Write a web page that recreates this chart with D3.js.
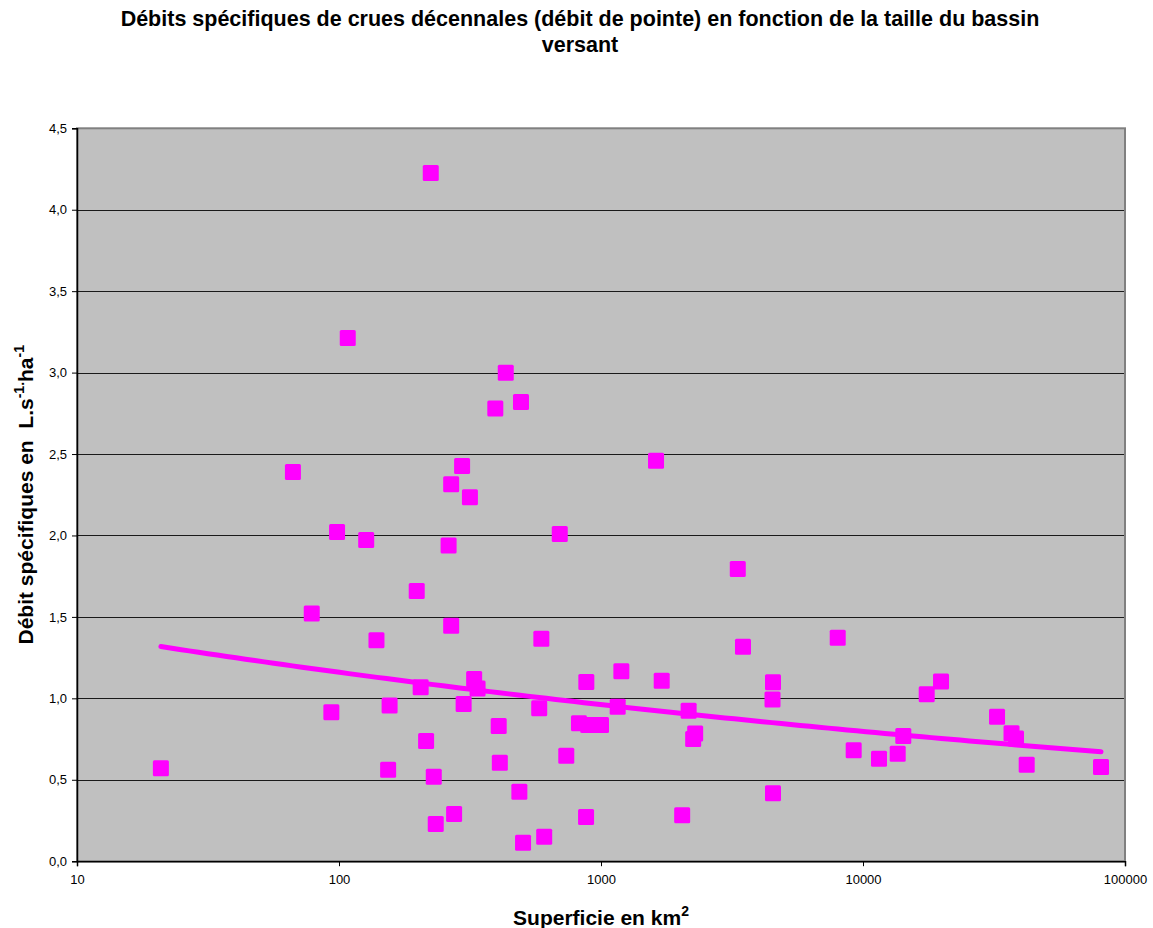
<!DOCTYPE html>
<html>
<head>
<meta charset="utf-8">
<script src="https://cdn.jsdelivr.net/npm/d3@7"></script>
<style>
  html, body { margin: 0; padding: 0; background: #fff; }
  svg { display: block; font-family: "Liberation Sans", Arial, sans-serif; }
  text { white-space: pre; }
</style>
</head>
<body>
<svg id="chart" width="1153" height="928"></svg>
<script>
// Superficie du bassin versant (km²)
const superficie = [20.9, 66.7, 78.7, 93.5, 98.3, 108, 127, 139, 156, 154,
  198, 205, 215, 224, 230, 234, 262, 268, 268, 275,
  295, 299, 316, 328, 338, 395, 407, 411, 433, 488,
  495, 504, 581, 592, 607, 696, 737, 824, 879, 877,
  894, 1000, 1158, 1196, 1622, 1705, 2041, 2160, 2248, 2288,
  3327, 3483, 4534, 4515, 4534, 8008, 9214, 11510, 13566, 14250,
  17504, 19852, 32478, 36885, 38370, 42150, 80990];
// Débit spécifique de crue décennale (L.s-1.ha-1)
const debit = [0.570, 2.389, 1.521, 0.914, 2.021, 3.212, 1.972, 1.356, 0.956, 0.562,
  1.659, 1.068, 0.738, 4.225, 0.519, 0.228, 1.939, 2.314, 1.446, 0.290,
  2.426, 0.965, 2.234, 1.118, 1.061, 2.780, 0.830, 0.605, 2.999, 0.427,
  2.819, 0.114, 0.939, 1.366, 0.150, 2.009, 0.648, 0.847, 1.100, 0.271,
  0.836, 0.836, 0.948, 1.166, 2.459, 1.108, 0.282, 0.924, 0.750, 0.784,
  1.794, 1.317, 1.098, 0.993, 0.417, 1.372, 0.681, 0.629, 0.660, 0.769,
  1.025, 1.104, 0.887, 0.785, 0.754, 0.592, 0.578];

const xTickValues = [10, 100, 1000, 10000, 100000];
const yTickValues = [0, 0.5, 1.0, 1.5, 2.0, 2.5, 3.0, 3.5, 4.0, 4.5];
const titleLines = ["Débits spécifiques de crues décennales (débit de pointe) en fonction de la taille du bassin", "versant"];

const svg = d3.select("#chart");
const plot = { left: 77, right: 1125, top: 128.3, bottom: 861.2 };

const x = d3.scaleLog().domain([10, 100000]).range([plot.left, plot.right]);
const y = d3.scaleLinear().domain([0, 4.5]).range([plot.bottom, plot.top]);

// plot area background
svg.append("rect")
  .attr("x", plot.left).attr("y", plot.top)
  .attr("width", plot.right - plot.left).attr("height", plot.bottom - plot.top)
  .attr("fill", "#C0C0C0");

// gridlines
svg.append("g").selectAll("line")
  .data(yTickValues.filter(v => v > 0 && v < 4.5))
  .join("line")
  .attr("x1", plot.left).attr("x2", plot.right)
  .attr("y1", d => Math.round(y(d)) + 0.5).attr("y2", d => Math.round(y(d)) + 0.5)
  .attr("stroke", "#1a1a1a").attr("stroke-width", 1);

// plot border
svg.append("rect")
  .attr("x", plot.left).attr("y", plot.top)
  .attr("width", plot.right - plot.left).attr("height", plot.bottom - plot.top)
  .attr("fill", "none").attr("stroke", "#808080").attr("stroke-width", 2);

const fmt = v => d3.format(".1f")(v).replace(".", ",");

// y axis
const yAxis = svg.append("g")
  .attr("transform", `translate(${plot.left},0)`)
  .call(d3.axisLeft(y).tickValues(yTickValues).tickFormat(fmt).tickSize(5).tickPadding(5));
// x axis
const xAxis = svg.append("g")
  .attr("transform", `translate(0,${plot.bottom})`)
  .call(d3.axisBottom(x).tickValues(xTickValues).tickFormat(d3.format("d")).tickSize(5).tickPadding(9));

[yAxis, xAxis].forEach(g => {
  g.select(".domain").attr("stroke", "#000").attr("stroke-width", 1.5);
  g.selectAll(".tick line").attr("stroke", "#000");
  g.selectAll(".tick text").attr("fill", "#000")
    .attr("font-family", "'Liberation Sans', Arial, sans-serif").attr("font-size", 13);
});

// power trendline (least squares on ln y vs ln x)
const lx = superficie.map(Math.log), ly = debit.map(Math.log);
const mx = d3.mean(lx), my = d3.mean(ly);
const b = d3.sum(lx.map((v, i) => (v - mx) * (ly[i] - my))) / d3.sum(lx.map(v => (v - mx) ** 2));
const a = Math.exp(my - b * mx);
const [xmin, xmax] = d3.extent(superficie);
const trend = d3.range(0, 101).map(i => {
  const xv = Math.exp(Math.log(xmin) + (Math.log(xmax) - Math.log(xmin)) * i / 100);
  return [xv, a * Math.pow(xv, b)];
});

// markers
svg.append("g").selectAll("rect")
  .data(superficie.map((s, i) => [s, debit[i]]))
  .join("rect")
  .attr("x", d => x(d[0]) - 8).attr("y", d => y(d[1]) - 8)
  .attr("width", 16).attr("height", 16).attr("rx", 1.5)
  .attr("fill", "#FF00FF");

svg.append("path")
  .datum(trend)
  .attr("d", d3.line().x(d => x(d[0])).y(d => y(d[1])))
  .attr("fill", "none").attr("stroke", "#FF00FF").attr("stroke-width", 5)
  .attr("stroke-linecap", "round");

// title
svg.append("text")
  .attr("x", 580).attr("y", 26)
  .attr("text-anchor", "middle").attr("font-size", 21.5).attr("font-weight", "bold")
  .selectAll("tspan").data(titleLines).join("tspan")
  .attr("x", 580).attr("dy", (d, i) => i === 0 ? 0 : 26)
  .text(d => d);

// x axis title
const xt = svg.append("text")
  .attr("x", (plot.left + plot.right) / 2).attr("y", 925)
  .attr("text-anchor", "middle").attr("font-size", 21).attr("font-weight", "bold");
xt.append("tspan").text("Superficie en km");
xt.append("tspan").attr("dy", -9).attr("font-size", 14).text("2");

// y axis title
const yt = svg.append("text")
  .attr("transform", `translate(32.5,${(plot.top + plot.bottom) / 2}) rotate(-90)`)
  .attr("text-anchor", "middle").attr("font-size", 21).attr("font-weight", "bold");
yt.append("tspan").text("Débit spécifiques en  L.s");
yt.append("tspan").attr("dy", -9).attr("font-size", 14).text("-1.");
yt.append("tspan").attr("dy", 9).text("ha");
yt.append("tspan").attr("dy", -9).attr("font-size", 14).text("-1");
</script>
</body>
</html>
